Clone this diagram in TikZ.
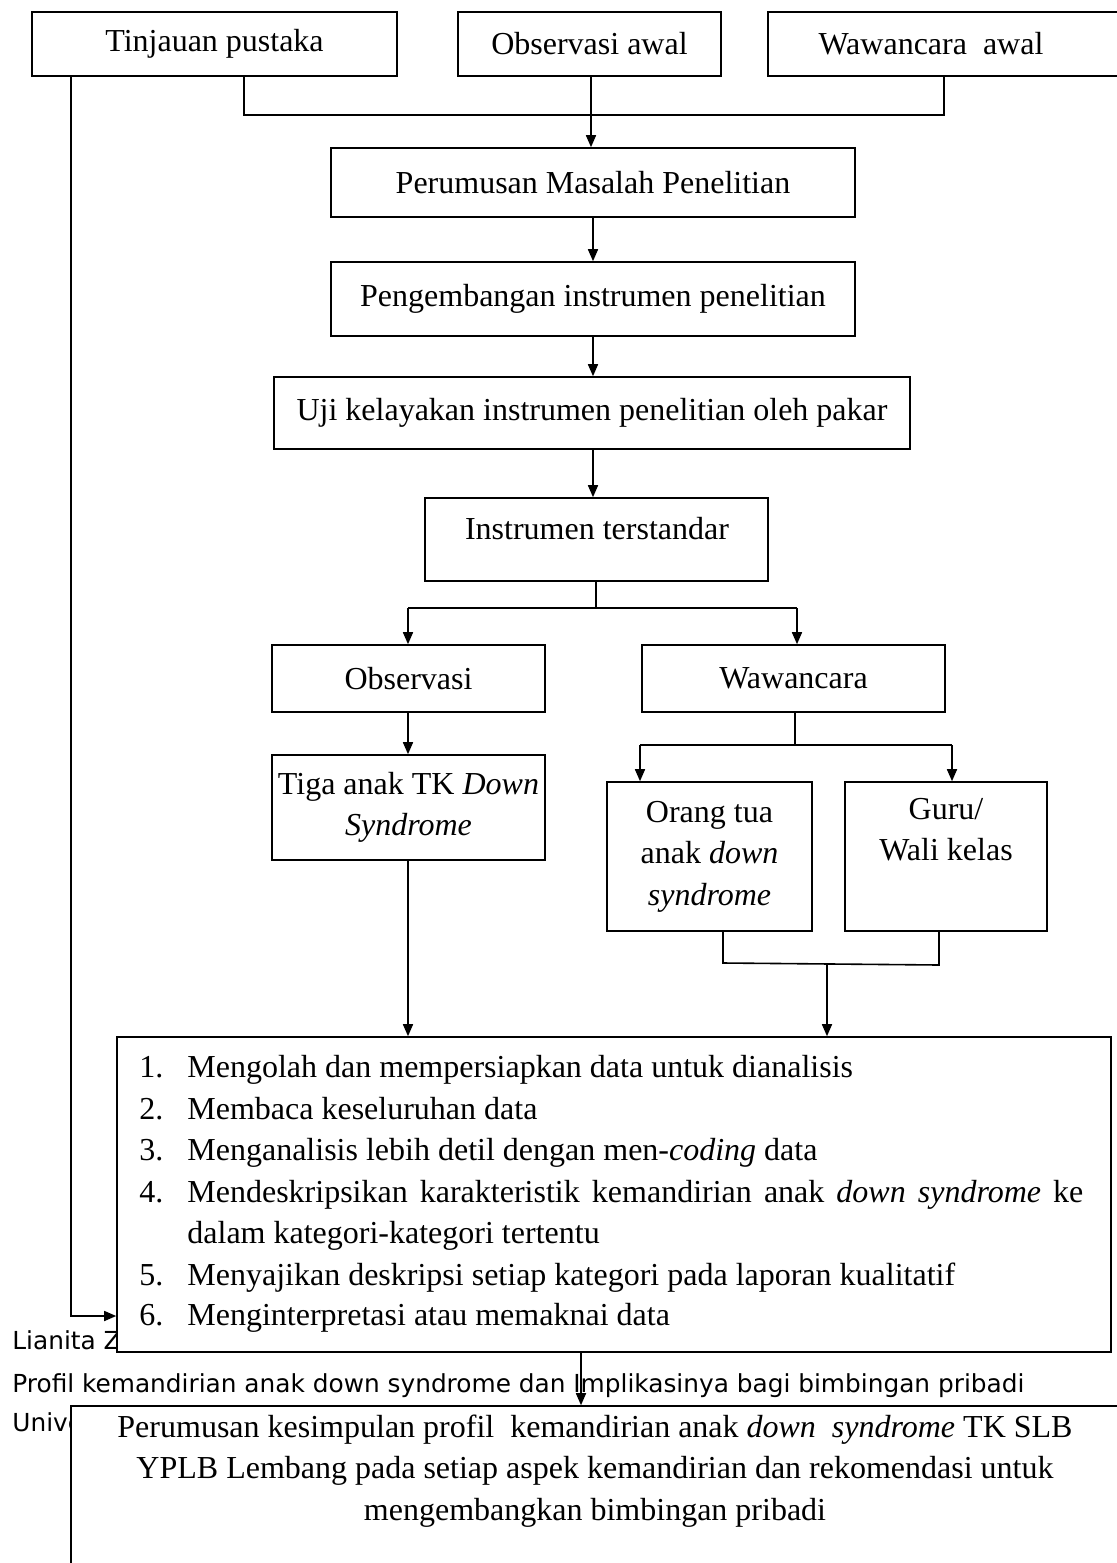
\documentclass[tikz,border=0pt]{standalone}
\usepackage{fontspec}
\setmainfont{Liberation Serif}
\newfontfamily\handfont{DejaVu Sans}
\usetikzlibrary{arrows.meta}
\begin{document}
\begin{tikzpicture}[x=0.5pt,y=-0.5pt,
  box/.style={draw,line width=0.8pt,fill=white,inner sep=0pt,align=center,font=\fontsize{16}{20.75}\selectfont},
  lab/.style={inner sep=0pt,align=center,font=\fontsize{16}{20.75}\selectfont},
  conn/.style={line width=0.8pt},
  arr/.style={line width=0.8pt,-{Triangle[length=6pt,width=5pt]}},
  txt/.style={inner sep=0pt,anchor=base west,font=\fontsize{16}{20.75}\selectfont},
  foot/.style={inner sep=0pt,anchor=base west,font=\handfont\fontsize{12.4}{14}\selectfont}]
\useasboundingbox (0,0) rectangle (1117,1563);
% footer text (partly covered by boxes)
\node[foot] (f1) at (12,1349) {Lianita Z};
\node[foot] (f2) at (12,1392) {Profil kemandirian anak down syndrome dan Implikasinya bagi bimbingan pribadi};
\node[foot] (f3) at (12,1431) {Unive};
% boxes
\node[box,minimum width=182.5pt,minimum height=32pt] (tp) at (214.5,44) {Tinjauan pustaka};
\node[box,minimum width=131.5pt,minimum height=32pt] (oa) at (589.5,44) {Observasi awal};
\node[box,minimum width=178.5pt,minimum height=32pt] (wa) at (946.5,44) {};
\node[lab] (wat) at (931,44) {Wawancara\ \ awal};
\node[box,minimum width=262pt,minimum height=34.5pt] (pm) at (593,182.5) {Perumusan Masalah Penelitian};
\node[box,minimum width=262pt,minimum height=37pt] (pi) at (593,299) {Pengembangan instrumen penelitian};
\node[box,minimum width=318pt,minimum height=36pt] (uk) at (592,413) {Uji kelayakan instrumen penelitian oleh pakar};
\node[box,minimum width=171.5pt,minimum height=41.5pt] (it) at (596.5,539.5) {};
\node[lab,anchor=base] (itt) at (597,539) {Instrumen terstandar};
\node[box,minimum width=136.5pt,minimum height=33.5pt] (ob) at (408.5,678.5) {Observasi};
\node[box,minimum width=151.5pt,minimum height=33.5pt] (ww) at (793.5,678.5) {Wawancara};
\node[box,minimum width=136.5pt,minimum height=52.5pt] (tg) at (408.5,807.5) {Tiga anak TK \textit{Down}\\\textit{Syndrome}};
\node[box,minimum width=102.5pt,minimum height=74.5pt] (ot) at (709.5,856.5) {Orang tua\\anak \textit{down}\\\textit{syndrome}};
\node[box,minimum width=101pt,minimum height=74.5pt] (gw) at (946,856.5) {Guru/\\Wali kelas\\\strut};
\node[box,minimum width=497pt,minimum height=157.5pt] (list) at (614,1194.5) {};
\node[box,minimum width=527pt,minimum height=97pt] (fin) at (598,1503) {};
% list content
\node[txt] (n1) at (139,1077) {1.};
\node[txt] (l1) at (187,1077) {Mengolah dan mempersiapkan data untuk dianalisis};
\node[txt] (n2) at (139,1119) {2.};
\node[txt] (l2) at (187,1119) {Membaca keseluruhan data};
\node[txt] (n3) at (139,1160) {3.};
\node[txt] (l3) at (187,1160) {Menganalisis lebih detil dengan men-\textit{coding} data};
\node[txt] (n4) at (139,1202) {4.};
\node[txt] (l4) at (187,1202) {\makebox[448pt][s]{Mendeskripsikan karakteristik kemandirian anak \textit{down syndrome} ke}};
\node[txt] (l4b) at (187,1243) {dalam kategori-kategori tertentu};
\node[txt] (n5) at (139,1285) {5.};
\node[txt] (l5) at (187,1285) {Menyajikan deskripsi setiap kategori pada laporan kualitatif};
\node[txt] (n6) at (139,1325) {6.};
\node[txt] (l6) at (187,1325) {Menginterpretasi atau memaknai data};
% final box content
\node[lab,anchor=base] (c1) at (595,1437) {Perumusan kesimpulan profil\ \ kemandirian anak \textit{down\ \ syndrome} TK SLB};
\node[lab,anchor=base] (c2) at (595,1478) {YPLB Lembang pada setiap aspek kemandirian dan rekomendasi untuk};
\node[lab,anchor=base] (c3) at (595,1520) {mengembangkan bimbingan pribadi};
% connectors
\coordinate (j1) at (244,115);
\coordinate (j2) at (944,115);
\coordinate (cx) at (591,0);
\draw[conn] (tp.south -| j1) -- (j1) -- (j2) -- (wa.south -| j2);
\draw[arr] (oa.south -| cx) -- (pm.north -| cx);
\coordinate (cy) at (593,0);
\draw[arr] (pm.south -| cy) -- (pi.north -| cy);
\draw[arr] (pi.south -| cy) -- (uk.north -| cy);
\draw[arr] (uk.south -| cy) -- (it.north -| cy);
\coordinate (s1) at (596,608);
\coordinate (s2) at (408,608);
\coordinate (s3) at (797,608);
\draw[conn] (it.south -| s1) -- (s1);
\draw[conn] (s2) -- (s3);
\draw[arr] (s2) -- (ob.north -| s2);
\draw[arr] (s3) -- (ww.north -| s3);
\draw[arr] (ob.south -| s2) -- (tg.north -| s2);
\coordinate (w1) at (795,745);
\coordinate (w2) at (640,745);
\coordinate (w3) at (952,745);
\draw[conn] (ww.south -| w1) -- (w1);
\draw[conn] (w2) -- (w3);
\draw[arr] (w2) -- (ot.north -| w2);
\draw[arr] (w3) -- (gw.north -| w3);
\coordinate (k1) at (723,963);
\coordinate (k2) at (939,965);
\coordinate (k3) at (827,964);
\draw[conn] (ot.south -| k1) -- (k1) -- (k2) -- (gw.south -| k2);
\draw[arr] (k3) -- (list.north -| k3);
\draw[arr] (tg.south -| s2) -- (list.north -| s2);
\coordinate (lc) at (71,1316);
\draw[arr] (tp.south -| lc) -- (lc) -- (lc -| list.west);
\coordinate (fx) at (581,0);
\draw[arr] (list.south -| fx) -- (fin.north -| fx);
\end{tikzpicture}
\end{document}
